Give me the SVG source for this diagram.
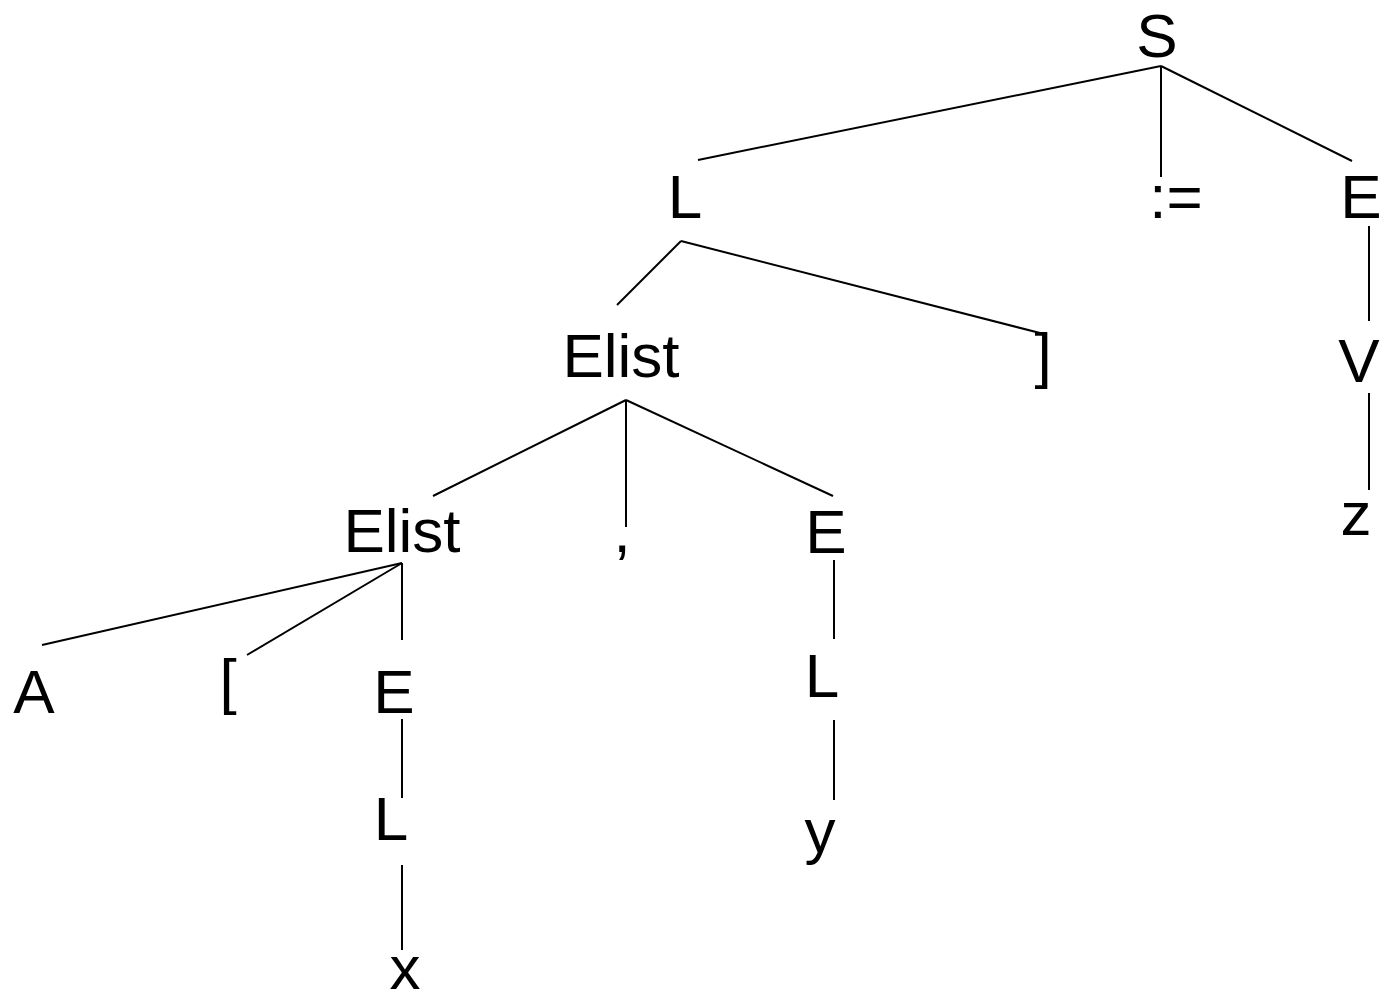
<svg xmlns="http://www.w3.org/2000/svg" width="1380" height="1003" viewBox="0 0 1380 1003">
<style>
text{font-family:"Liberation Sans",Arial,sans-serif;font-size:62px;fill:#000;text-anchor:middle}
line{stroke:#000;stroke-width:2}
</style>
<rect width="1380" height="1003" fill="#fff"/>
<g id="connectors">
<line x1="1161" y1="66" x2="698" y2="160"/>
<line x1="1161" y1="66" x2="1161" y2="177"/>
<line x1="1161" y1="66" x2="1352" y2="161"/>
<line x1="681" y1="241" x2="617" y2="305"/>
<line x1="681" y1="241" x2="1040" y2="333"/>
<line x1="1369" y1="226" x2="1369" y2="321"/>
<line x1="1369" y1="393" x2="1369" y2="490"/>
<line x1="626" y1="400" x2="433" y2="496"/>
<line x1="626" y1="400" x2="626" y2="527"/>
<line x1="626" y1="400" x2="833" y2="496"/>
<line x1="402" y1="563" x2="42" y2="645"/>
<line x1="402" y1="563" x2="247" y2="655"/>
<line x1="402" y1="563" x2="402" y2="640"/>
<line x1="402" y1="719" x2="402" y2="798"/>
<line x1="402" y1="865" x2="402" y2="950"/>
<line x1="834" y1="560" x2="834" y2="639"/>
<line x1="834" y1="720" x2="834" y2="800"/>
</g>
<g id="n-S"><text x="1157" y="57">S</text></g>
<g id="n-L1"><text x="685" y="218">L</text></g>
<g id="n-assign"><text x="1176" y="218">:=</text></g>
<g id="n-E1"><text x="1361" y="218">E</text></g>
<g id="n-Elist1"><text x="621" y="377">Elist</text></g>
<g id="n-rbracket"><text x="1043" y="376">]</text></g>
<g id="n-V"><text x="1359" y="382">V</text></g>
<g id="n-Elist2"><text x="402" y="552">Elist</text></g>
<g id="n-comma"><text x="622" y="552">,</text></g>
<g id="n-E2"><text x="826" y="553">E</text></g>
<g id="n-z"><text x="1356" y="535">z</text></g>
<g id="n-A"><text x="34" y="713">A</text></g>
<g id="n-lbracket"><text x="228" y="702">[</text></g>
<g id="n-E3"><text x="394" y="713">E</text></g>
<g id="n-L2"><text x="391" y="840">L</text></g>
<g id="n-x"><text x="405" y="989">x</text></g>
<g id="n-L3"><text x="822" y="697">L</text></g>
<g id="n-y"><text x="820" y="852">y</text></g>
</svg>
